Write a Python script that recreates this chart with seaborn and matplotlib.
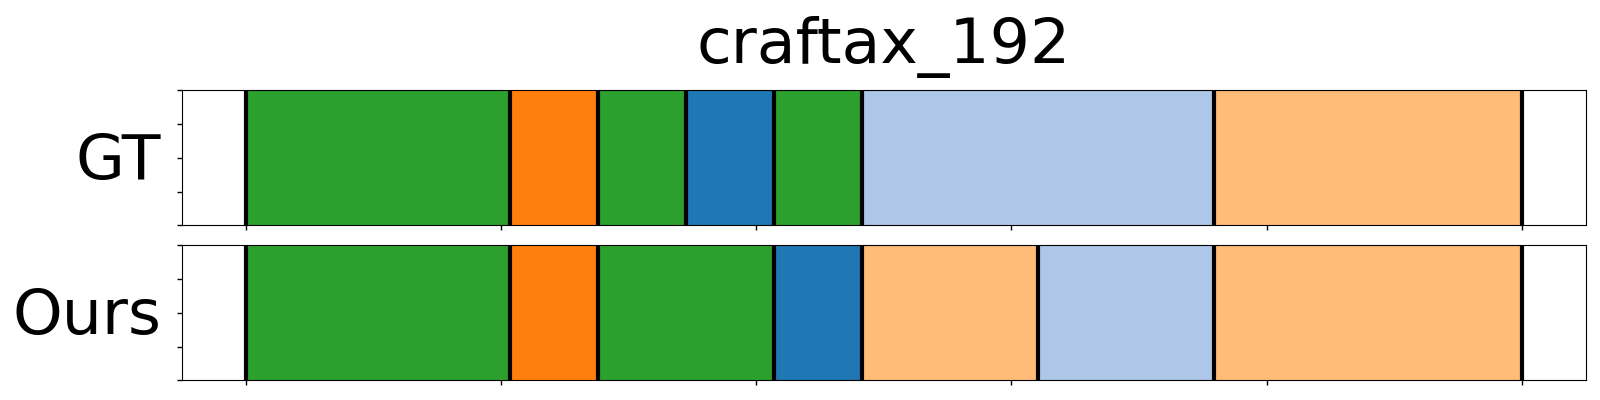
import matplotlib
matplotlib.use("Agg")
import matplotlib.pyplot as plt
import seaborn as sns
import numpy as np

sns.reset_orig()
plt.rcParams['font.family'] = ['DejaVu Sans']

title = "craftax_192"
total_steps = 29
row_names = ["GT", "Ours"]
gt_labels = ["green", "orange", "green", "blue", "green", "lightblue", "lightorange"]
gt_lengths = [6, 2, 2, 2, 2, 8, 7]
ours_labels = ["green", "orange", "green", "blue", "lightorange", "lightblue", "lightorange"]
ours_lengths = [6, 2, 4, 2, 4, 4, 7]

pal = sns.color_palette("tab20")
color_map = {
    "blue": pal[0],
    "lightblue": pal[1],
    "orange": pal[2],
    "lightorange": pal[3],
    "green": pal[4],
}

fig, axes = plt.subplots(2, 1, figsize=(16, 4), dpi=100, sharex=True)
fig.subplots_adjust(left=0.1136, right=0.991, top=0.774, bottom=0.049, hspace=0.148)

for ax, name, labels, lengths in zip(axes, row_names,
                                     [gt_labels, ours_labels],
                                     [gt_lengths, ours_lengths]):
    lengths = np.array(lengths, dtype=float)
    starts = np.concatenate([[0], np.cumsum(lengths)[:-1]]) / total_steps
    widths = lengths / total_steps
    for s, w, lab in zip(starts, widths, labels):
        ax.barh(0.5, w, left=s, height=1.0, color=color_map[lab],
                edgecolor=color_map[lab], linewidth=0.5)
    bounds = np.concatenate([starts, [1.0]])
    for b in bounds:
        ax.axvline(b, color="black", linewidth=3, zorder=3)
    ax.set_ylim(0, 1)
    ax.set_yticks([0, 0.25, 0.5, 0.75, 1.0])
    ax.set_yticklabels([])
    ax.set_xticks(np.linspace(0, 1, 6))
    ax.set_xticklabels([])
    ax.set_ylabel(name, fontsize=45.5, rotation=0, ha="right", va="center")
    ax.yaxis.set_label_coords(-0.0145, 0.47)
    ax.tick_params(length=3.5, width=1)

axes[0].set_xlim(-0.05, 1.05)
axes[0].set_title(title, fontsize=45.5, pad=20)

fig.savefig("out.png", dpi=100)
